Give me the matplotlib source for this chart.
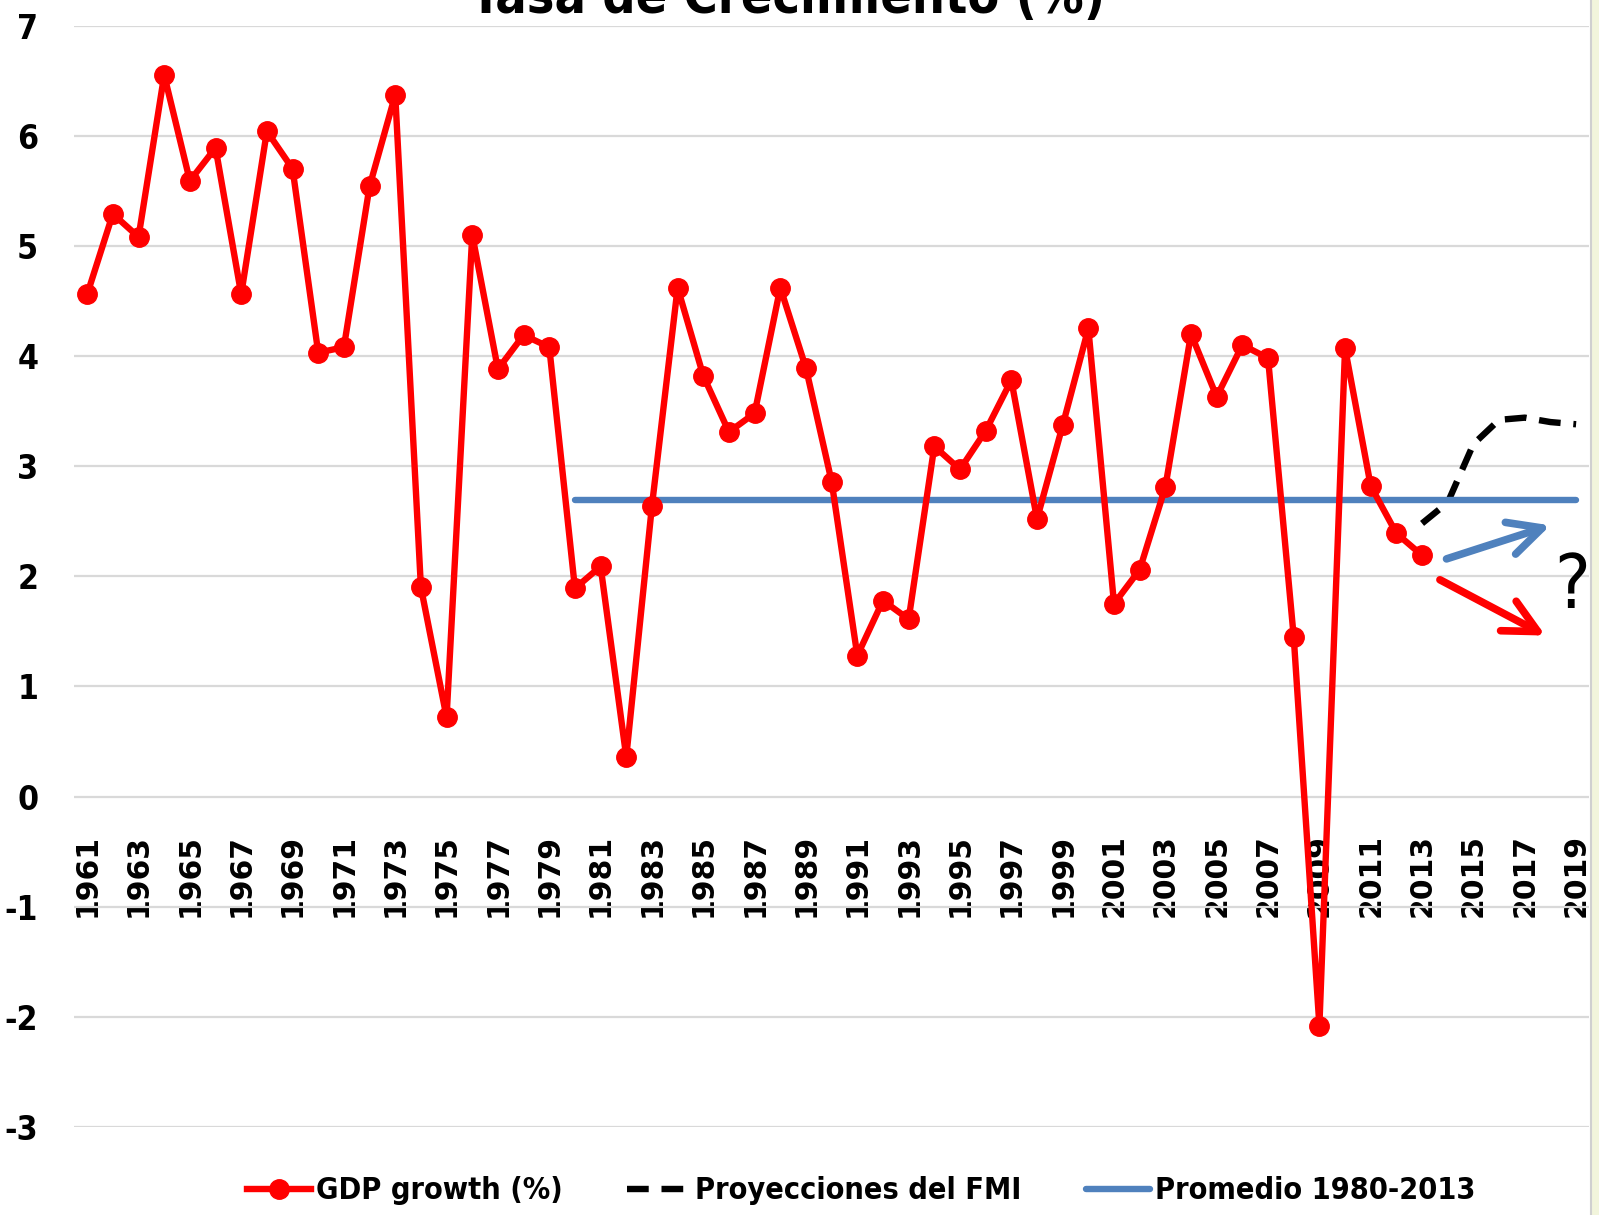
import numpy as np
import matplotlib
matplotlib.use("Agg")
import matplotlib.pyplot as plt
from matplotlib import font_manager
from matplotlib.patches import Rectangle

# a narrow bold face is closest to the original; use what is installed
names = {(f.name, f.stretch) for f in font_manager.fontManager.ttflist}
if any(n == 'Liberation Sans Narrow' for n, s in names):
    FAM, STRETCH, K = ['Liberation Sans Narrow', 'DejaVu Sans'], 'normal', 1.15
elif ('DejaVu Sans', 'condensed') in names:
    FAM, STRETCH, K = ['DejaVu Sans'], 'condensed', 1.1
else:
    FAM, STRETCH, K = ['DejaVu Sans'], 'normal', 1.0
plt.rcParams['font.family'] = FAM
plt.rcParams['font.stretch'] = STRETCH

# GDP growth (%), 1961-2013
years = list(range(1961, 2014))
gdp = [4.56, 5.29, 5.08, 6.55, 5.59, 5.89, 4.56, 6.04, 5.70, 4.03,
       4.08, 5.54, 6.37, 1.90, 0.72, 5.10, 3.88, 4.19, 4.08, 1.89,
       2.09, 0.36, 2.64, 4.62, 3.82, 3.31, 3.48, 4.62, 3.89, 2.86,
       1.28, 1.78, 1.61, 3.18, 2.97, 3.32, 3.78, 2.52, 3.37, 4.25,
       1.75, 2.06, 2.81, 4.20, 3.63, 4.10, 3.98, 1.45, -2.08, 4.07,
       2.82, 2.39, 2.19]

# IMF projections
imf_years = [2013, 2014, 2015, 2016, 2017, 2018, 2019]
imf = [2.48, 2.67, 3.20, 3.42, 3.44, 3.40, 3.38]

# average 1980-2013
avg_years = [1980, 2019]
avg_value = 2.69

xticks = list(range(1961, 2020, 2))
yticks = list(range(-3, 8))

RED = '#ff0000'
BLUE = '#4f81bd'

fig = plt.figure(figsize=(15.99, 12.15), dpi=100)
ax = fig.add_axes([0.0465, 0.0724, 0.9472, 0.9066])
ax.spines['bottom'].set_position(('data', 0))
for s in ax.spines.values():
    s.set_visible(False)

ax.plot(years, gdp, color=RED, lw=4.6, marker='o', ms=14, zorder=4,
        label='GDP growth (%)')
ax.plot(imf_years, imf, color='black', lw=4.6, ls=(0, (3.4, 2)), zorder=3,
        label='Proyecciones del FMI')
ax.plot(avg_years, [avg_value] * 2, color=BLUE, lw=4.6, solid_capstyle='round',
        zorder=3, label='Promedio 1980-2013')

# arrows and question mark on the right
ax.annotate('', xy=(2018.1, 2.47), xytext=(2013.85, 2.15),
            arrowprops=dict(arrowstyle='->', color=BLUE, lw=5.5, mutation_scale=60))
ax.annotate('', xy=(2017.9, 1.45), xytext=(2013.6, 1.98),
            arrowprops=dict(arrowstyle='->', color=RED, lw=5.5, mutation_scale=60))
ax.text(2018.85, 1.9, '?', fontsize=54, ha='center', va='center')

ax.set_xlim(1960.5, 2019.5)
ax.set_ylim(-3, 7)
ax.set_yticks(yticks)
ax.set_xticks(xticks)
ax.set_yticklabels([str(v) for v in yticks], fontsize=22 * K, fontweight='bold')
ax.set_xticklabels([str(v) for v in xticks], rotation=90, fontsize=21.5,
                   fontweight='bold', family='DejaVu Sans', fontstretch='normal')
ax.tick_params(axis='y', length=0, pad=26)
ax.tick_params(axis='x', length=0, pad=27)
ax.grid(axis='y', color='#d9d9d9', lw=1.6)
ax.set_axisbelow(True)

fig.text(788 / 1599, 1 - 12.5 / 1215, 'Tasa de Crecimiento (%)', fontsize=34 * K,
         fontweight='bold', ha='center', va='baseline')

fig.legend(loc='center', bbox_to_anchor=(861 / 1599, 0.0198), ncol=3,
           frameon=False, prop=dict(size=20 * K, weight='bold', stretch=STRETCH),
           handlelength=2.1, handletextpad=0.15, columnspacing=2.1)

# pale strip at the right edge
fig.patches.append(Rectangle((1591 / 1599, 0), 8 / 1599, 1, transform=fig.transFigure,
                             facecolor='#f2f5dc', edgecolor='none'))
fig.lines.append(plt.Line2D([1591 / 1599] * 2, [0, 1], transform=fig.transFigure,
                            color='#d0d0d0', lw=1.5))

fig.savefig('out.png', dpi=100)
